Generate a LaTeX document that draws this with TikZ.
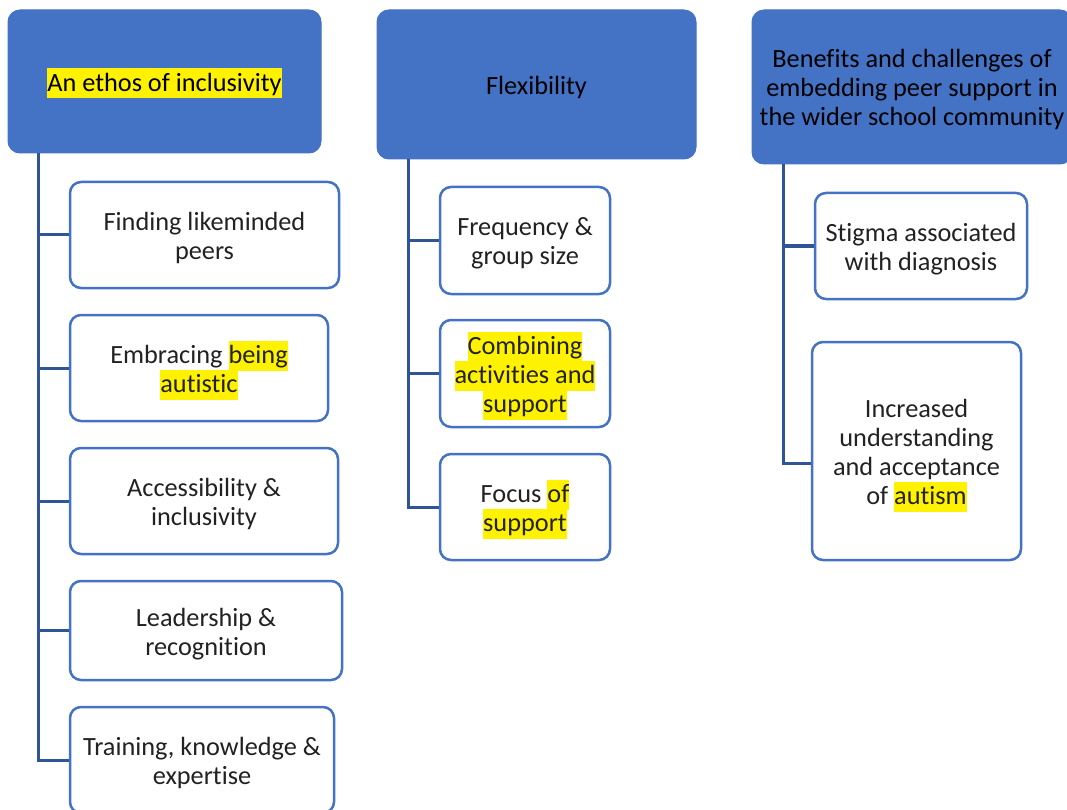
\documentclass[tikz,border=0pt]{standalone}
\usepackage{fontspec}
\setmainfont{Carlito}[Ligatures=NoCommon]
\definecolor{hdrblue}{HTML}{4472C4}
\definecolor{connblue}{HTML}{2F5597}
\definecolor{txtgray}{HTML}{222222}
\newcommand\hlt[1]{{\setlength{\fboxsep}{0pt}\colorbox{yellow}{\rule[-7pt]{0pt}{30pt}#1}}}
\newcommand\TS{\rule[-7pt]{0pt}{34pt}}
\newcommand\nodefont{\fontsize{26.3}{29}\selectfont\setlength{\lineskiplimit}{-100pt}}
\tikzset{
  txtstyle/.style={align=center, inner sep=0pt, font=\nodefont},
  hdrbox/.style={txtstyle, draw=hdrblue, fill=hdrblue, line width=1pt, rounded corners=12pt, text=black},
  childbox/.style={txtstyle, draw=hdrblue, fill=white, line width=2.5pt, rounded corners=11pt, text=txtgray},
  connline/.style={draw=connblue, line width=3pt}
}
\begin{document}
\begin{tikzpicture}[x=1pt,y=-1pt]
\useasboundingbox (0,0) rectangle (1067,810);
\clip (0,0) rectangle (1067,810);
% headers
\node[hdrbox, minimum width=313pt, minimum height=143pt] (h1) at (164.5,81.5) {\TS\hlt{An ethos of inclusivity}\TS};
\node[hdrbox, minimum width=319pt, minimum height=149pt] (h2) at (536.5,84.5) {\TS Flexibility\TS};
\node[hdrbox, minimum width=320pt, minimum height=154pt] (h3) at (912,87) {\TS Benefits and challenges of\\embedding peer support in\\the wider school community\TS};
% column 1 children
\node[childbox, minimum width=269pt, minimum height=106pt] (a1) at (204.5,235) {\TS Finding likeminded\\peers\TS};
\node[childbox, minimum width=258pt, minimum height=106pt] (a2) at (199,368) {\TS Embracing \hlt{being}\\\hlt{autistic}\TS};
\node[childbox, minimum width=268pt, minimum height=106pt] (a3) at (204,501) {\TS Accessibility \&\\inclusivity\TS};
\node[childbox, minimum width=272pt, minimum height=99pt] (a4) at (206,630.5) {\TS Leadership \&\\recognition\TS};
\node[childbox, minimum width=264pt, minimum height=106pt] (a5) at (202,760) {\TS Training, knowledge \&\\expertise\TS};
% column 2 children
\node[childbox, minimum width=170pt, minimum height=107pt] (b1) at (525,240.5) {\TS Frequency \&\\group size\TS};
\node[childbox, minimum width=170pt, minimum height=107pt] (b2) at (525,373.5) {\TS\hlt{Combining}\\\hlt{activities and}\\\hlt{support}\TS};
\node[childbox, minimum width=170pt, minimum height=106pt] (b3) at (525,507) {\TS Focus \hlt{of}\\\hlt{support}\TS};
% column 3 children
\node[childbox, minimum width=212pt, minimum height=106pt] (c1) at (921,246) {\TS Stigma associated\\with diagnosis\TS};
\node[childbox, minimum width=209pt, minimum height=218pt] (c2) at (916.5,451) {\TS Increased\\understanding\\and acceptance\\of \hlt{autism}\TS};
% trunk coordinates
\coordinate (v1) at (38,153);
\coordinate (v2) at (408,159);
\coordinate (v3) at (783,164);
% connectors column 1
\draw[connline] (v1) |- (a5.west);
\draw[connline] (v1 |- a1.west) -- (a1.west);
\draw[connline] (v1 |- a2.west) -- (a2.west);
\draw[connline] (v1 |- a3.west) -- (a3.west);
\draw[connline] (v1 |- a4.west) -- (a4.west);
% connectors column 2
\draw[connline] (v2) |- (b3.west);
\draw[connline] (v2 |- b1.west) -- (b1.west);
\draw[connline] (v2 |- b2.west) -- (b2.west);
% connectors column 3
\draw[connline] (v3) |- ([yshift=-12pt]c2.west);
\draw[connline] (v3 |- c1.west) -- (c1.west);
\end{tikzpicture}
\end{document}
